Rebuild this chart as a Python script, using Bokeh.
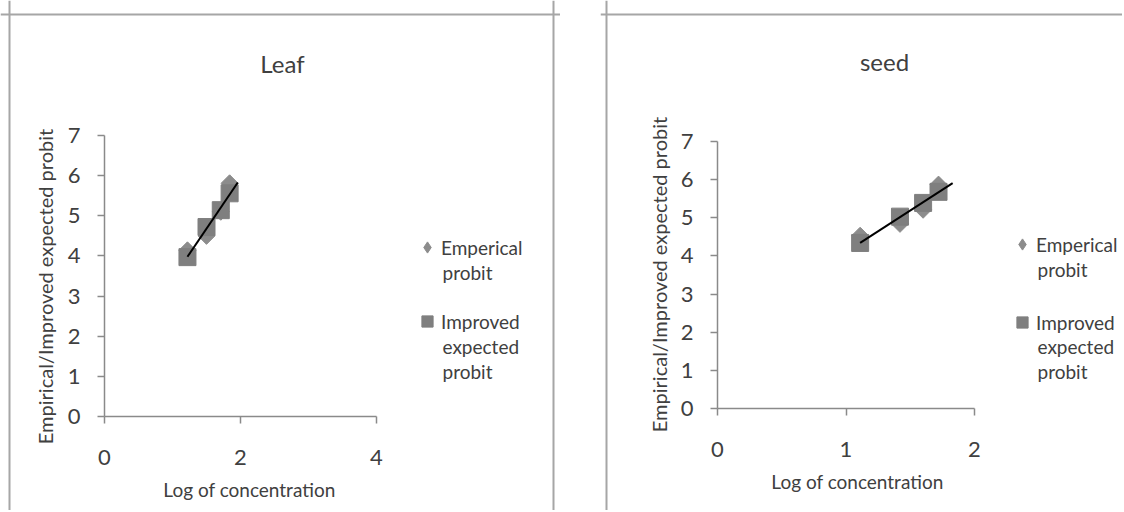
import numpy as np
from bokeh.plotting import figure
from bokeh.models import Range1d, Legend, LegendItem, Label, FixedTicker, Span
from bokeh.layouts import row
from bokeh.embed import file_html
from bokeh.resources import INLINE

# ---- data ----
leaf_logc = [1.22, 1.50, 1.71, 1.84]
leaf_empirical = [4.14, 4.50, 5.10, 5.81]
leaf_improved = [3.97, 4.72, 5.14, 5.56]
leaf_trend_x = [1.22, 1.96]

seed_logc = [1.11, 1.42, 1.60, 1.72]
seed_empirical = [4.53, 4.84, 5.21, 5.87]
seed_improved = [4.34, 5.03, 5.39, 5.68]
seed_trend_x = [1.11, 1.83]

leaf_xticks = [0, 2, 4]
seed_xticks = [0, 1, 2]
y_ticks = [0, 1, 2, 3, 4, 5, 6, 7]

series_lines = [["Emperical", "probit"], ["Improved", "expected", "probit"]]
x_title = "Log of concentration"
y_title = "Empirical/Improved expected probit"

FONT = "Lato"
AXIS_COLOR = "#8a8a8a"
TEXT_COLOR = "#404040"
PANEL_COLOR = "#a6a6a6"
CANVAS_H = 510


def panel(title, xs, emp, imp, trend_x, xticks, cw, geom, title_px,
          xtitle_px, ytitle_px, leg, borders):
    # geom: canvas px of data x=0, px per x unit, canvas px of data y=0, px per y unit
    x0, xper, y0, yper = geom
    xs0, xs1 = -x0 / xper, (cw - x0) / xper
    ys1, ys0 = y0 / yper, -(CANVAS_H - y0) / yper

    def dx(px):
        return xs0 + px / xper

    def dy(py):
        return ys1 - py / yper

    p = figure(width=cw, height=CANVAS_H, min_border=0,
               x_range=Range1d(xs0, xs1), y_range=Range1d(ys0, ys1),
               output_backend="svg", toolbar_location=None,
               background_fill_color="white", border_fill_color="white")
    p.title.visible = False
    p.outline_line_color = None
    p.grid.visible = False

    for ax in (p.xaxis[0], p.yaxis[0]):
        ax.fixed_location = 0
        ax.axis_line_color = AXIS_COLOR
        ax.axis_line_width = 1.5
        ax.major_tick_line_color = AXIS_COLOR
        ax.major_tick_line_width = 1.5
        ax.major_tick_in = 0
        ax.major_tick_out = 7
        ax.minor_tick_line_color = None
        ax.major_label_text_font = FONT
        ax.major_label_text_font_size = "22px"
        ax.major_label_text_color = TEXT_COLOR

    p.xaxis.bounds = (xticks[0], xticks[-1])
    p.yaxis.bounds = (0, 7)
    p.xaxis.ticker = FixedTicker(ticks=xticks)
    p.yaxis.ticker = FixedTicker(ticks=y_ticks)
    p.xaxis.major_label_standoff = 26
    p.yaxis.major_label_standoff = 17

    # axis titles (placed where the reference has them)
    p.add_layout(Label(x=dx(xtitle_px[0]), y=dy(xtitle_px[1]), text=x_title,
                       text_font=FONT, text_font_size="19px",
                       text_color=TEXT_COLOR, text_align="center",
                       text_baseline="middle"))
    p.add_layout(Label(x=dx(ytitle_px[0]), y=dy(ytitle_px[1]), text=y_title,
                       angle=np.pi / 2, text_font=FONT, text_font_size="20px",
                       text_color=TEXT_COLOR, text_align="center",
                       text_baseline="middle"))

    # panel border (left, top, right edges; the bottom runs off the page)
    for kind, pos in borders:
        if kind == "v":
            p.add_layout(Span(location=dx(pos), dimension="height",
                              line_color=PANEL_COLOR, line_width=2))
        else:
            p.add_layout(Span(location=dy(pos), dimension="width",
                              line_color=PANEL_COLOR, line_width=2))

    r_emp = p.scatter(xs, emp, marker="square", angle=np.pi / 4, size=12,
                      fill_color="#8c8c8c", line_color="#8c8c8c")
    r_imp = p.scatter(xs, imp, marker="square", size=17,
                      fill_color="#7f7f7f", line_color="#7f7f7f")
    # same series as a plain diamond, used only for the legend key
    r_emp_key = p.scatter(xs, emp, marker="diamond", size=12, visible=False,
                          fill_color="#8c8c8c", line_color="#8c8c8c")

    slope, icpt = np.polyfit(np.array(xs), np.array(imp), 1)
    tx = np.array(trend_x)
    p.line(tx, slope * tx + icpt, line_color="black", line_width=2)

    p.add_layout(Label(x=dx(title_px[0]), y=dy(title_px[1]), text=title,
                       text_font=FONT, text_font_size="24px",
                       text_color=TEXT_COLOR, text_align="center",
                       text_baseline="middle"))

    # legend: first line of each entry next to its key, further lines below
    text_x, tops, spacing, line_ys = leg
    legend = Legend(items=[LegendItem(label=series_lines[0][0], renderers=[r_emp_key]),
                           LegendItem(label=series_lines[1][0], renderers=[r_imp])],
                    location=(text_x - 29, CANVAS_H - (tops + 56 + spacing)),
                    border_line_color=None, background_fill_alpha=0,
                    inactive_fill_alpha=0,
                    label_text_font=FONT, label_text_font_size="19px",
                    label_text_color=TEXT_COLOR, spacing=spacing, padding=0,
                    margin=0, glyph_width=28, glyph_height=28,
                    label_standoff=0)
    p.add_layout(legend, "center")
    extra = [series_lines[0][1], series_lines[1][1], series_lines[1][2]]
    for txt, ly in zip(extra, line_ys):
        p.add_layout(Label(x=dx(text_x), y=dy(ly), text=txt, text_font=FONT,
                           text_font_size="19px", text_color=TEXT_COLOR,
                           text_align="left", text_baseline="middle"))
    return p


left = panel("Leaf", leaf_logc, leaf_empirical, leaf_improved, leaf_trend_x,
             leaf_xticks, 560, (104, 68.0, 416, 281 / 7), (282, 63),
             (249, 489), (44, 286),
             (442, 233, 46, (272, 346, 371)),
             [("v", 9), ("v", 553), ("h", 14)])
right = panel("seed", seed_logc, seed_empirical, seed_improved, seed_trend_x,
              seed_xticks, 522, (117, 128.5, 408, 267 / 7), (284, 61),
              (257, 481), (58, 274),
              (437, 230, 50, (269, 346, 371)),
              [("v", 6), ("h", 14)])

layout = row(left, right, spacing=40)
open("out.html", "w").write(file_html(layout, INLINE))
